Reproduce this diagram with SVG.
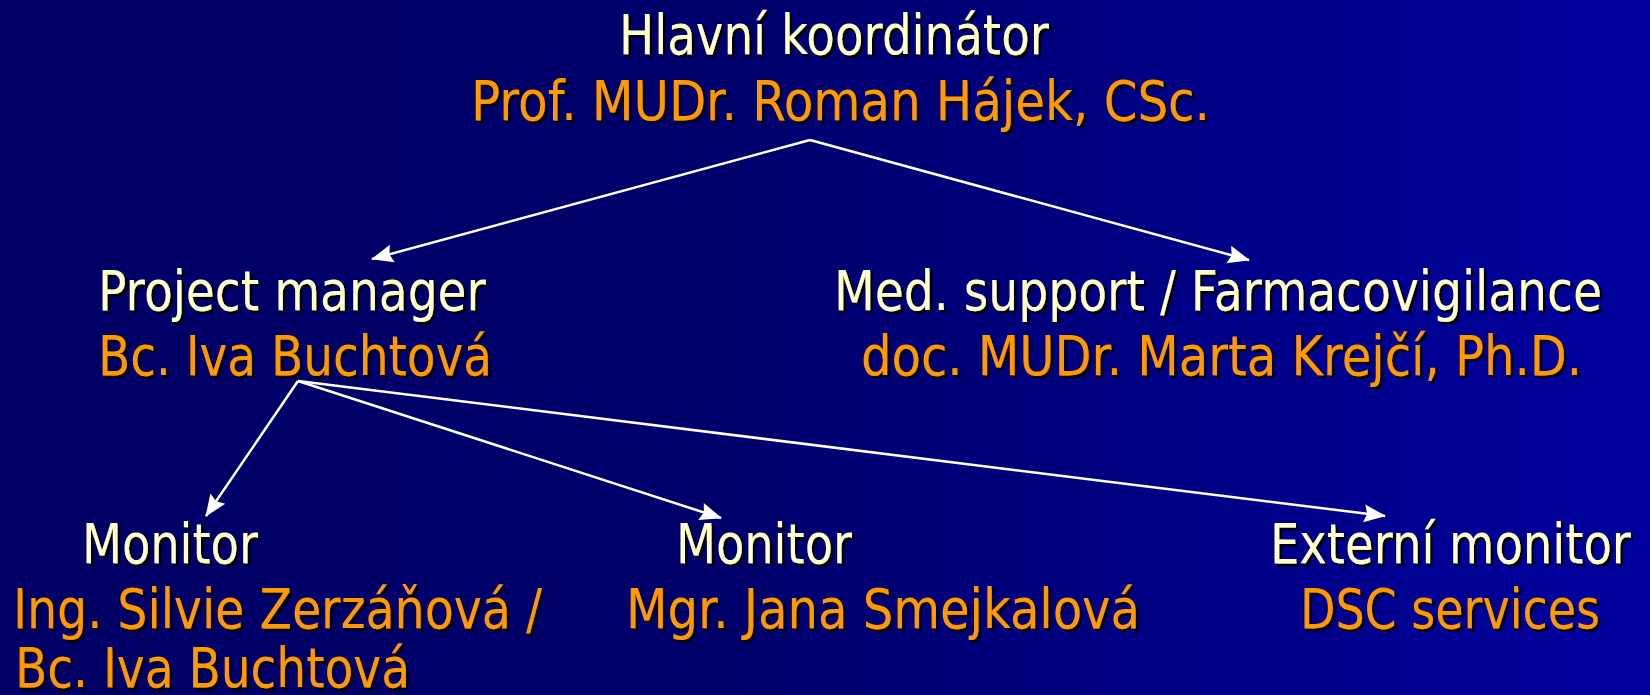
<svg xmlns="http://www.w3.org/2000/svg" width="1650" height="695" viewBox="0 0 1650 695">
<defs>
<linearGradient id="bg" x1="0" y1="0" x2="1" y2="0">
<stop offset="0" stop-color="#000066"/>
<stop offset="0.45" stop-color="#00006d"/>
<stop offset="1" stop-color="#00009e"/>
</linearGradient>
<filter id="sh" x="-5%" y="-20%" width="110%" height="140%">
<feDropShadow dx="2.5" dy="2.2" stdDeviation="0.4" flood-color="#000000" flood-opacity="0.95"/>
</filter>
<marker id="ah" viewBox="0 0 22 18" refX="21" refY="9" markerWidth="22" markerHeight="18" markerUnits="userSpaceOnUse" orient="auto" overflow="visible">
<path d="M0,0 L22,9 L0,18 L3,9 Z" fill="#ffffff"/>
</marker>
<style>
text{font-family:"DejaVu Sans","Liberation Sans",sans-serif;font-size:46.5px;filter:url(#sh);}
.t{fill:#ffffcc;}
.n{fill:#ff9900;}
.c{stroke:#ffffff;stroke-width:2.5;fill:none;marker-end:url(#ah);}
</style>
</defs>
<rect x="0" y="0" width="1650" height="695" fill="url(#bg)"/>
<g id="connectors">
<polyline class="c" points="810,140 372,259"/>
<polyline class="c" points="810,140 1249,260"/>
<polyline class="c" points="298,381 206,516"/>
<polyline class="c" points="298,381 721,518"/>
<polyline class="c" points="298,381 1385,516"/>
</g>
<g id="node-coordinator" transform="scale(1,1.18)">
<text class="t" x="619" y="45.76" textLength="430" lengthAdjust="spacingAndGlyphs">Hlavní koordinátor</text>
<text class="n" x="471" y="101.69" textLength="739" lengthAdjust="spacingAndGlyphs">Prof. MUDr. Roman Hájek, CSc.</text>
</g>
<g id="node-pm" transform="scale(1,1.18)">
<text class="t" x="98" y="262.71" textLength="388" lengthAdjust="spacingAndGlyphs">Project manager</text>
<text class="n" x="98" y="317.80" textLength="394" lengthAdjust="spacingAndGlyphs">Bc. Iva Buchtová</text>
</g>
<g id="node-med" transform="scale(1,1.18)">
<text class="t" x="834" y="262.71" textLength="768" lengthAdjust="spacingAndGlyphs">Med. support / Farmacovigilance</text>
<text class="n" x="861" y="317.80" textLength="721" lengthAdjust="spacingAndGlyphs">doc. MUDr. Marta Krejčí, Ph.D.</text>
</g>
<g id="node-monitor1" transform="scale(1,1.18)">
<text class="t" x="82" y="477.12" textLength="176" lengthAdjust="spacingAndGlyphs">Monitor</text>
<text class="n" x="13" y="532.20" textLength="529" lengthAdjust="spacingAndGlyphs">Ing. Silvie Zerzáňová /</text>
<text class="n" x="15" y="582.2" textLength="395" lengthAdjust="spacingAndGlyphs">Bc. Iva Buchtová</text>
</g>
<g id="node-monitor2" transform="scale(1,1.18)">
<text class="t" x="676" y="477.12" textLength="176" lengthAdjust="spacingAndGlyphs">Monitor</text>
<text class="n" x="626" y="532.20" textLength="514" lengthAdjust="spacingAndGlyphs">Mgr. Jana Smejkalová</text>
</g>
<g id="node-external" transform="scale(1,1.18)">
<text class="t" x="1270" y="477.12" textLength="361" lengthAdjust="spacingAndGlyphs">Externí monitor</text>
<text class="n" x="1300" y="532.20" textLength="300" lengthAdjust="spacingAndGlyphs">DSC services</text>
</g>
</svg>
